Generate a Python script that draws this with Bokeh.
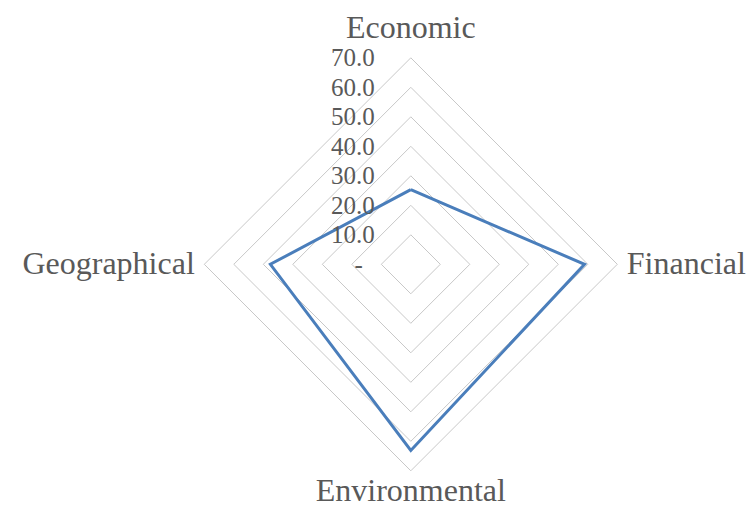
import math
from bokeh.plotting import figure
from bokeh.models import ColumnDataSource, Range1d
from bokeh.core.properties import value
from bokeh.embed import file_html
from bokeh.resources import INLINE

categories = ["Economic", "Financial", "Environmental", "Geographical"]
values = [25.3, 58.9, 63.1, 47.6]
levels = [0, 10, 20, 30, 40, 50, 60, 70]
tick_labels = ["-", "10.0", "20.0", "30.0", "40.0", "50.0", "60.0", "70.0"]

W, H = 753, 511
cx, cy = 410.3, 263.8
scale = 2.95  # px per unit

p = figure(width=W, height=H, output_backend="svg", toolbar_location=None,
           min_border=0, outline_line_color=None,
           x_range=Range1d(-cx / scale, (W - cx) / scale),
           y_range=Range1d(-(H - cy) / scale, cy / scale))
p.axis.visible = False
p.grid.visible = False
p.background_fill_color = "white"
p.border_fill_color = "white"

angles = [math.pi / 2 - i * 2 * math.pi / len(categories) for i in range(len(categories))]

# grid polygons
gx, gy = [], []
for lv in levels[1:]:
    xs = [lv * math.cos(a) for a in angles]
    ys = [lv * math.sin(a) for a in angles]
    gx.append(xs + [xs[0]])
    gy.append(ys + [ys[0]])
p.multi_line(gx, gy, line_color="#c8c8c8", line_width=1)

# series
sx = [v * math.cos(a) for v, a in zip(values, angles)]
sy = [v * math.sin(a) for v, a in zip(values, angles)]
p.line(sx + [sx[0]], sy + [sy[0]], line_color="#4a7ebb", line_width=3, line_join="miter")

font = value("Liberation Serif")
grey = "#595959"

# tick labels
tx_off = [-48 if t == "-" else -36 for t in tick_labels]
tsrc = ColumnDataSource(dict(x=[0] * len(levels), y=levels, t=tick_labels, xo=tx_off))
p.text(x="x", y="y", text="t", x_offset="xo", source=tsrc, text_font=font,
       text_font_size="25px", text_color=grey, text_align="right",
       text_baseline="middle")

# category labels
xo = [0, 216, 0, -216]
yo = [-237, -1, 226, -1]
al = ["center", "left", "center", "right"]
csrc = ColumnDataSource(dict(x=[0] * 4, y=[0] * 4, t=categories, xo=xo, yo=yo, al=al))
p.text(x="x", y="y", text="t", x_offset="xo", y_offset="yo", text_align="al",
       source=csrc, text_font=font, text_font_size="32px", text_color=grey,
       text_baseline="middle")

open("out.html", "w").write(file_html(p, INLINE))
